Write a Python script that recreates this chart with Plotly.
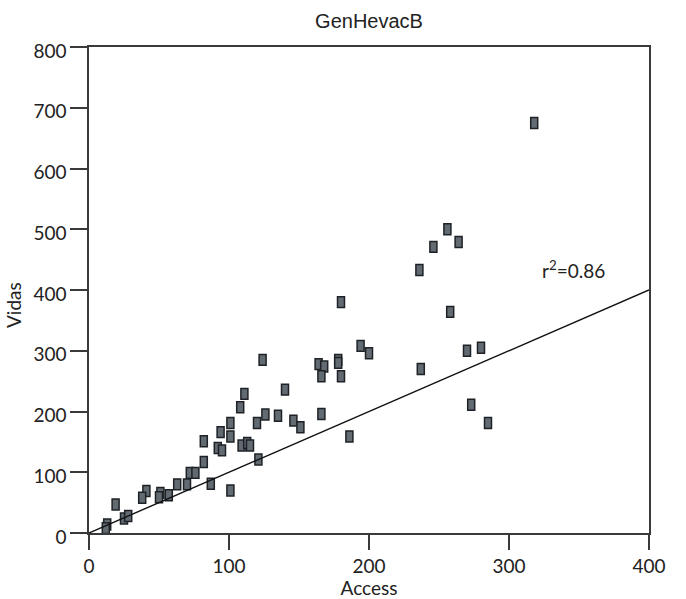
import plotly.graph_objects as go

# ---- data ----
access = [318, 236, 246, 256, 264, 258, 270, 280, 237, 273, 285,
          180, 124, 194, 200, 164, 168, 178, 178, 166, 180, 140, 111, 108,
          126, 135, 166, 146, 151, 120, 101, 94, 82, 101, 92, 95, 109, 113,
          115, 121, 82, 72, 76, 63, 70, 87, 101, 41, 38, 51, 50, 57, 19,
          25, 28, 13, 12, 186]
vidas = [675, 433, 471, 500, 479, 364, 300, 305, 270, 211, 181,
         380, 285, 308, 296, 278, 274, 285, 280, 258, 258, 236, 229, 207,
         195, 193, 196, 185, 174, 181, 181, 166, 151, 159, 140, 136, 144, 148,
         144, 121, 117, 99, 99, 80, 80, 81, 70, 69, 58, 66, 59, 62, 47,
         24, 28, 14, 8, 159]

fit_slope = [1.0]
fit_x = [0, 400]
r2_text = "r<sup>2</sup>=0.86"
title_text = "GenHevacB"
x_title = "Access"
y_title = "Vidas"
x_ticks = [0, 100, 200, 300, 400]
y_ticks = [0, 100, 200, 300, 400, 500, 600, 700, 800]

# ---- styling ----
MARK_W = 5.0    # marker width in x units
MARK_H = 18.0   # marker height in y units
FILL = "#626a72"
EDGE = "#1e2226"
AXIS = "#3a3a3a"
TXT = "#222222"
FONT = "Lato, Liberation Sans, Arial, sans-serif"

fig = go.Figure()

fig.add_trace(go.Bar(
    x=access,
    y=[MARK_H] * len(access),
    base=[v - MARK_H / 2 for v in vidas],
    width=MARK_W,
    marker=dict(color=FILL, line=dict(color=EDGE, width=1.5)),
    hoverinfo="skip",
    showlegend=False,
))

fit_y = [fit_slope[0] * xv for xv in fit_x]
fig.add_trace(go.Scatter(
    x=fit_x, y=fit_y, mode="lines",
    line=dict(color="#111111", width=1.4),
    hoverinfo="skip", showlegend=False,
))

fig.update_layout(
    width=686, height=599,
    margin=dict(l=89, r=37, t=47, b=66, autoexpand=False),
    paper_bgcolor="white", plot_bgcolor="white",
    barmode="overlay",
    title=dict(text=title_text, x=(89 + 649) / 2 / 686, xanchor="center",
               y=1 - 21 / 599, yanchor="middle", automargin=False,
               font=dict(family="Liberation Sans, Arial, sans-serif", size=20, color=TXT)),
    font=dict(family=FONT, color=TXT),
)

fig.update_xaxes(
    range=[0, 400], tickvals=x_ticks, ticks="outside", ticklen=15, tickwidth=1.5,
    tickcolor=AXIS, showline=True, linecolor=AXIS, linewidth=1.5, mirror=True,
    showgrid=False, zeroline=False, tickfont=dict(size=19, family=FONT, color=TXT),
    automargin=False,
    title=dict(text=x_title, font=dict(size=19, family=FONT, color=TXT), standoff=10),
)
fig.update_yaxes(
    range=[0, 800], tickvals=y_ticks, ticks="outside", ticklen=17, tickwidth=1.5,
    tickcolor=AXIS, showline=True, linecolor=AXIS, linewidth=1.5, mirror=True,
    showgrid=False, zeroline=False, tickfont=dict(size=19, family=FONT, color=TXT),
    ticklabelshift=4, automargin=False,
)

fig.add_annotation(
    text=r2_text, x=322, y=433, xref="x", yref="y",
    xanchor="left", yanchor="middle", showarrow=False,
    font=dict(size=19, family=FONT, color=TXT),
)

fig.add_annotation(
    text=y_title, xref="paper", yref="paper", x=0, y=(533 - 305) / 486,
    xanchor="center", yanchor="middle", xshift=-76, textangle=-90,
    showarrow=False, font=dict(size=19, family=FONT, color=TXT),
)

fig.write_html("out.html")
